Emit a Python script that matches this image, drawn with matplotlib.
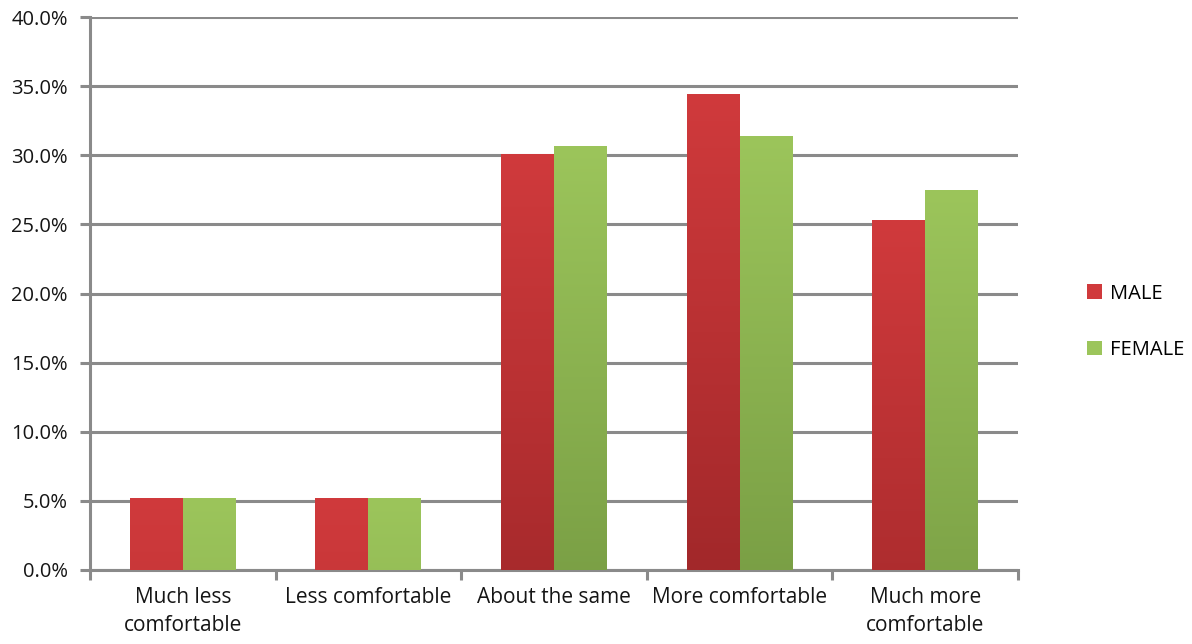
import matplotlib.pyplot as plt
import numpy as np
from matplotlib.patches import Patch
from matplotlib.ticker import FuncFormatter, MultipleLocator
from matplotlib.colors import LinearSegmentedColormap

plt.rcParams['font.family'] = ['Open Sans', 'DejaVu Sans']

categories = ["Much less\ncomfortable", "Less comfortable", "About the same",
              "More comfortable", "Much more\ncomfortable"]
male = [5.2, 5.2, 30.1, 34.4, 25.3]
female = [5.2, 5.2, 30.7, 31.4, 27.5]
series_names = ["MALE", "FEMALE"]

red_top, red_bot = "#d03a3c", "#a2282a"
green_top, green_bot = "#9cc55b", "#779c43"

fig = plt.figure(figsize=(11.92, 6.44), dpi=100)
ax = fig.add_axes([0.0755, 0.115, 0.7785, 0.8585])

x = np.arange(len(categories))
w = 0.285
shade_len = max(male + female)

def grad_bars(xs, vals, top, bot):
    # shading starts light at each bar top and darkens over a fixed length,
    # so short bars stay nearly flat
    cmap = LinearSegmentedColormap.from_list("g", [bot, top])
    grad = np.linspace(0, 1, 256).reshape(-1, 1)
    bars = ax.bar(xs, vals, width=w, color="none", edgecolor="none", zorder=3)
    for b in bars:
        x0, h = b.get_x(), b.get_height()
        im = ax.imshow(grad, cmap=cmap, origin="lower", aspect="auto",
                       extent=[x0, x0 + b.get_width(), h - shade_len, h],
                       zorder=3, interpolation="bilinear")
        im.set_clip_path(b)
    return bars

grad_bars(x - w / 2, male, red_top, red_bot)
grad_bars(x + w / 2, female, green_top, green_bot)

ax.set_xlim(-0.5, len(categories) - 0.5)
ax.set_ylim(0, 40)
ax.yaxis.set_major_locator(MultipleLocator(5))
ax.yaxis.set_major_formatter(FuncFormatter(lambda v, p: f"{v:.1f}%"))
ax.grid(axis="y", color="#8a8a8a", linewidth=2.2, zorder=1)
ax.set_axisbelow(True)

for s in ["top", "right"]:
    ax.spines[s].set_visible(False)
for s in ["left", "bottom"]:
    ax.spines[s].set_color("#8a8a8a")
    ax.spines[s].set_linewidth(2.2)

# category labels in the middle, ticks on the boundaries
ax.set_xticks(x)
ax.set_xticklabels(categories, fontsize=15, color="#151515", linespacing=1.45)
ax.tick_params(axis="x", which="major", length=0, pad=12)
ax.set_xticks(np.arange(len(categories) + 1) - 0.5, minor=True)
ax.tick_params(axis="x", which="minor", length=7, width=2.2, color="#8a8a8a")
ax.tick_params(axis="y", length=7, width=2.2, color="#8a8a8a", labelsize=14.5,
               labelcolor="#151515", pad=9)

handles = [Patch(facecolor=red_top, edgecolor="none"),
           Patch(facecolor=green_top, edgecolor="none")]
fig.legend(handles, series_names, loc="center left", bbox_to_anchor=(0.897, 0.5),
           frameon=False, fontsize=14.5, handlelength=0.75, handleheight=0.75,
           handletextpad=0.35, labelspacing=1.8)

fig.savefig("out.png", dpi=100)
